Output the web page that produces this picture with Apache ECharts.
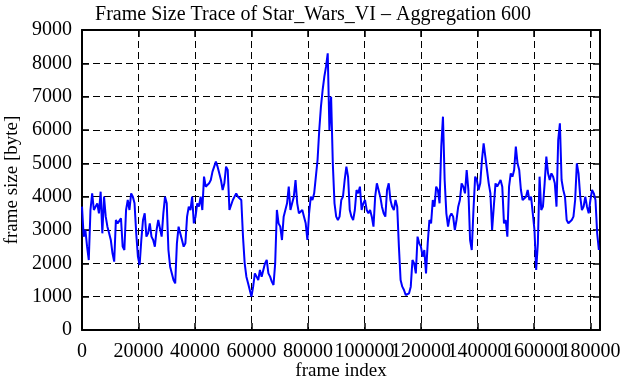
<!DOCTYPE html>
<html>
<head>
<meta charset="utf-8">
<script src="https://cdn.jsdelivr.net/npm/echarts@6/dist/echarts.min.js"></script>
<style>
html, body { margin: 0; padding: 0; background: #fff; }
#chart { width: 626px; height: 380px; }
</style>
</head>
<body>
<div id="chart"></div>
<script>
// frame size per aggregation bin (600 frames each)
var sampleStep = 600;
var frameSize = [
    3700, 2800, 3000, 2500, 2100, 3600, 4100, 3600, 3600, 3800,
    3500, 4150, 2900, 4000, 3400, 3100, 2900, 2700, 2300, 2050,
    3300, 3200, 3250, 3350, 2500, 2400, 3600, 3900, 3600, 4100,
    4000, 3800, 2900, 2200, 1950, 2700, 3300, 3500, 2800, 2900,
    3200, 2800, 2700, 2500, 3000, 3300, 3300, 2800, 3500, 4000,
    3800, 2400, 1900, 1900, 1500, 1400, 2600, 3100, 3100, 2700,
    2500, 2600, 3400, 3700, 3600, 4000, 3200, 3400, 3800, 3700,
    4000, 3600, 4600, 4300, 4250, 4400, 4500, 4750, 4800, 5050,
    4900, 4700, 4500, 4200, 4400, 4900, 4800, 3600, 3600, 3900,
    3850, 4100, 4000, 4000, 3900, 2800, 2000, 1600, 1400, 1200,
    1000, 1300, 1700, 1600, 1500, 1800, 1600, 1800, 2000, 2100,
    1700, 1600, 1450, 1350, 2000, 3600, 3200, 3100, 2700, 3400,
    3600, 3800, 4300, 3600, 3800, 4000, 4500, 3800, 3500, 3500,
    3600, 3400, 3200, 2700, 3500, 4000, 3900, 4100, 4600, 5100,
    6000, 6700, 7200, 7600, 7900, 8300, 6000, 7000, 5000, 3800,
    3400, 3300, 3400, 3900, 4000, 4500, 4900, 4600, 3600, 3400,
    3300, 3600, 4200, 4100, 4300, 3600, 3800, 3900, 3600, 3500,
    3600, 3400, 3100, 4000, 4400, 4200, 4000, 3700, 3500, 3400,
    4200, 4400, 3900, 3700, 3600, 3900, 3700, 2500, 1500, 1300,
    1200, 1050, 1000, 1100, 1300, 2100, 2000, 1700, 2800, 2600,
    2500, 2200, 2400, 1700, 2600, 3300, 3200, 3900, 3700, 4300,
    4200, 3800, 5500, 6400, 4500, 3500, 3100, 3400, 3500, 3400,
    3000, 3300, 3700, 3900, 4400, 4300, 4100, 4800, 4200, 2700,
    2400, 3600, 4600, 4500, 4200, 4400, 5100, 5600, 5200, 4800,
    4400, 4100, 3000, 3700, 4400, 4300, 4400, 4500, 4300, 3200,
    3300, 2800, 4300, 4700, 4600, 4800, 5500, 5000, 4800, 4200,
    3900, 3850, 4000, 4200, 3900, 4000, 3500, 3000, 1800, 2600,
    4600, 3600, 3700, 4400, 5200, 4700, 4500, 4700, 4600, 4400,
    3700, 5700, 6200, 4500, 4200, 4000, 3300, 3200, 3200, 3300,
    3400, 3900, 5000, 4700, 4000, 3600, 3700, 4000, 3700, 3500,
    3900, 4200, 4100, 3900, 2900, 2400
];
var xMax = 183400;
var xTickStep = 20000;
var yTicks = [0, 1000, 2000, 3000, 4000, 5000, 6000, 7000, 8000, 9000];

var points = [];
for (var i = 0; i < frameSize.length; i++) {
    points.push([i * sampleStep, frameSize[i]]);
}

var font = 'Liberation Serif';
var myChart = echarts.init(document.getElementById('chart'));

var frameLine = { show: true, onZero: false, lineStyle: { color: '#000', width: 2 } };
var inTick = { show: true, inside: true, length: 7, lineStyle: { color: '#000', width: 1.5 } };
var dashGrid = { show: true, lineStyle: { color: '#000', width: 1, type: [7, 4] } };

myChart.setOption({
    animation: false,
    title: {
        text: 'Frame Size Trace of Star_Wars_VI \u2013 Aggregation 600',
        left: 'center',
        top: 0,
        textStyle: { fontFamily: font, fontSize: 20, fontWeight: 'normal', color: '#000' }
    },
    grid: { left: 82, right: 26, top: 30, bottom: 50, containLabel: false, outerBoundsMode: 'none' },
    xAxis: [{
        type: 'value',
        min: 0,
        max: xMax,
        interval: xTickStep,
        name: 'frame index',
        nameLocation: 'middle',
        nameGap: 32,
        nameMoveOverlap: false,
        nameTextStyle: { fontFamily: font, fontSize: 19, color: '#000' },
        axisLine: frameLine,
        axisTick: inTick,
        splitLine: dashGrid,
        axisLabel: {
            fontFamily: font, fontSize: 20, color: '#000', margin: 12,
            formatter: function (v) { return v % xTickStep === 0 ? String(v) : ''; }
        }
    }, {
        type: 'value',
        position: 'top',
        min: 0,
        max: xMax,
        interval: xTickStep,
        axisLine: frameLine,
        axisTick: inTick,
        splitLine: { show: false },
        axisLabel: { show: false }
    }],
    yAxis: [{
        type: 'value',
        min: yTicks[0],
        max: yTicks[yTicks.length - 1],
        interval: yTicks[1] - yTicks[0],
        name: 'frame size [byte]',
        nameLocation: 'middle',
        nameGap: 60,
        nameMoveOverlap: false,
        nameTextStyle: { fontFamily: font, fontSize: 19, color: '#000' },
        axisLine: frameLine,
        axisTick: inTick,
        splitLine: dashGrid,
        axisLabel: {
            fontFamily: font, fontSize: 20, color: '#000', margin: 10,
            formatter: function (v) { return String(v); }
        }
    }, {
        type: 'value',
        position: 'right',
        min: yTicks[0],
        max: yTicks[yTicks.length - 1],
        interval: yTicks[1] - yTicks[0],
        axisLine: frameLine,
        axisTick: inTick,
        splitLine: { show: false },
        axisLabel: { show: false }
    }],
    series: [{
        type: 'line',
        data: points,
        showSymbol: false,
        lineStyle: { color: '#0000ff', width: 2 }
    }]
});
</script>
</body>
</html>
